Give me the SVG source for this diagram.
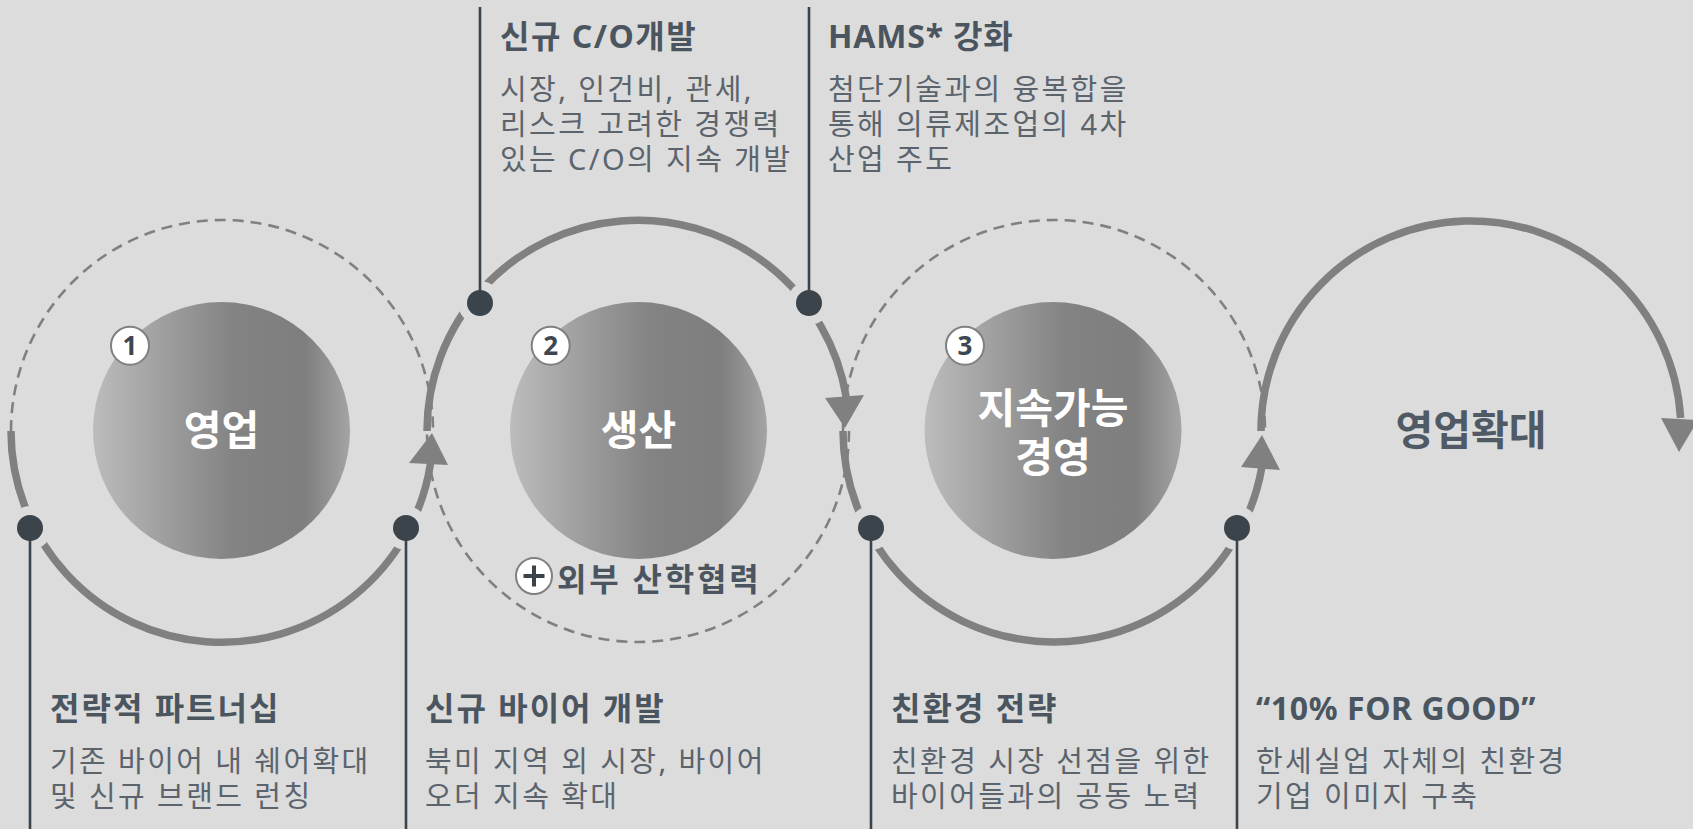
<svg xmlns="http://www.w3.org/2000/svg" width="1693" height="829" viewBox="0 0 1693 829">
<defs>
<linearGradient id="ball" x1="0" y1="0" x2="1" y2="0">
<stop offset="0" stop-color="#bcbcbc"/>
<stop offset="0.3" stop-color="#9c9c9c"/>
<stop offset="0.55" stop-color="#838383"/>
<stop offset="0.82" stop-color="#7e7e7e"/>
<stop offset="1" stop-color="#a4a4a4"/>
</linearGradient>
<style>
.solid{fill:none;stroke:#808080;stroke-width:7.5}
.dash{fill:none;stroke:#808080;stroke-width:2.6;stroke-dasharray:11 7}
.head{fill:#808080}
.gap{fill:#dcdcdc}
.dot{fill:#3b444b}
.lead{stroke:#3b444b;stroke-width:2.6}
.ball{fill:url(#ball)}
.badge{fill:#ffffff;stroke:#808080;stroke-width:2}
.num{font-family:"Noto Sans","Open Sans",sans-serif;font-weight:700;font-size:26px;fill:#3d4752;text-anchor:middle}
.big{font-family:"Noto Sans","Noto Sans CJK KR",sans-serif;font-weight:700;font-size:41px;fill:#ffffff;text-anchor:middle}
.bigd{font-family:"Noto Sans","Noto Sans CJK KR",sans-serif;font-weight:700;font-size:41px;fill:#4f5a65;text-anchor:middle}
.ttl{font-family:"Noto Sans","Noto Sans CJK KR",sans-serif;font-weight:700;font-size:32px;fill:#4b5560;letter-spacing:2px}
.lat{letter-spacing:0.5px}
.body{font-family:"Noto Sans","Noto Sans CJK KR",sans-serif;font-weight:400;font-size:29px;fill:#5b646d;letter-spacing:2.4px}
</style>
</defs>
<rect width="1693" height="829" fill="#dcdcdc"/>

<g id="connectors">
<path class="dash" d="M 11 431 A 211 211 0 0 1 433 431"/>
<path class="dash" d="M 849 431 A 211 211 0 0 1 427 431"/>
<path class="dash" d="M 843 431 A 211 211 0 0 1 1265 431"/>
<path class="solid" d="M 11 431 A 211 211 0 0 0 430.6 463"/>
<path class="solid" d="M 427 431 A 211 211 0 0 1 846.2 397"/>
<path class="solid" d="M 843 431 A 211 211 0 0 0 1261.9 467"/>
<path class="solid" d="M 1261 431 A 210 210 0 0 1 1680.6 418"/>
<polygon class="head" points="432,433 409,463 448,465"/>
<polygon class="head" points="845,428 825,398 864,395"/>
<polygon class="head" points="1262,435 1241,467 1280,470"/>
<polygon class="head" points="1679,452 1661,418 1698,420"/>
<circle class="gap" cx="30" cy="528" r="22"/>
<circle class="gap" cx="406" cy="528" r="22"/>
<circle class="gap" cx="480" cy="303" r="22"/>
<circle class="gap" cx="809" cy="303" r="22"/>
<circle class="gap" cx="871" cy="528" r="22"/>
<circle class="gap" cx="1237" cy="528" r="22"/>
<line class="lead" x1="30" y1="528" x2="30" y2="829"/>
<line class="lead" x1="406" y1="528" x2="406" y2="829"/>
<line class="lead" x1="480" y1="7" x2="480" y2="303"/>
<line class="lead" x1="809" y1="7" x2="809" y2="303"/>
<line class="lead" x1="871" y1="528" x2="871" y2="829"/>
<line class="lead" x1="1237" y1="528" x2="1237" y2="829"/>
<circle class="dot" cx="30" cy="528" r="13"/>
<circle class="dot" cx="406" cy="528" r="13"/>
<circle class="dot" cx="480" cy="303" r="13"/>
<circle class="dot" cx="809" cy="303" r="13"/>
<circle class="dot" cx="871" cy="528" r="13"/>
<circle class="dot" cx="1237" cy="528" r="13"/>
</g>

<g id="node-sales">
<circle class="ball" cx="221.5" cy="430.5" r="128.5"/>
<circle class="badge" cx="130" cy="345.7" r="19"/>
<text class="num" x="130" y="355">1</text>
<text class="big" x="221.5" y="445">영업</text>
</g>

<g id="node-production">
<circle class="ball" cx="638.5" cy="430.5" r="128.5"/>
<circle class="badge" cx="550.7" cy="345.7" r="19"/>
<text class="num" x="550.7" y="355">2</text>
<text class="big" x="638.5" y="445">생산</text>
<circle class="badge" cx="534" cy="576" r="18"/>
<path d="M 523.5 576 H 544.5 M 534 565.5 V 586.5" stroke="#3b444b" stroke-width="4" fill="none"/>
<text class="ttl" x="557" y="591" style="letter-spacing:2.8px">외부 산학협력</text>
</g>

<g id="node-sustainability">
<circle class="ball" cx="1053" cy="430.5" r="128.5"/>
<circle class="badge" cx="965" cy="345.7" r="19"/>
<text class="num" x="965" y="355">3</text>
<text class="big" x="1053" y="423">지속가능</text>
<text class="big" x="1053" y="472">경영</text>
</g>

<g id="node-expansion">
<text class="bigd" x="1471" y="445">영업확대</text>
</g>

<g id="label-co">
<text class="ttl" x="500" y="48" style="letter-spacing:1.5px">신규 C/O개발</text>
<text class="body" x="500" y="100">시장, 인건비, 관세,</text>
<text class="body" x="500" y="135">리스크 고려한 경쟁력</text>
<text class="body" x="500" y="170">있는 C/O의 지속 개발</text>
</g>

<g id="label-hams">
<text class="ttl" x="828" y="48" style="letter-spacing:0.8px">HAMS* 강화</text>
<text class="body" x="828" y="100">첨단기술과의 융복합을</text>
<text class="body" x="828" y="135">통해 의류제조업의 4차</text>
<text class="body" x="828" y="170">산업 주도</text>
</g>

<g id="label-partnership">
<text class="ttl" x="50" y="720">전략적 파트너십</text>
<text class="body" x="50" y="772">기존 바이어 내 쉐어확대</text>
<text class="body" x="50" y="807">및 신규 브랜드 런칭</text>
</g>

<g id="label-buyer">
<text class="ttl" x="425" y="720">신규 바이어 개발</text>
<text class="body" x="425" y="772">북미 지역 외 시장, 바이어</text>
<text class="body" x="425" y="807">오더 지속 확대</text>
</g>

<g id="label-eco">
<text class="ttl" x="891" y="720">친환경 전략</text>
<text class="body" x="891" y="772">친환경 시장 선점을 위한</text>
<text class="body" x="891" y="807">바이어들과의 공동 노력</text>
</g>

<g id="label-good">
<text class="ttl lat" x="1256" y="720" style="letter-spacing:0.6px">“10% FOR GOOD”</text>
<text class="body" x="1256" y="772">한세실업 자체의 친환경</text>
<text class="body" x="1256" y="807">기업 이미지 구축</text>
</g>
</svg>
